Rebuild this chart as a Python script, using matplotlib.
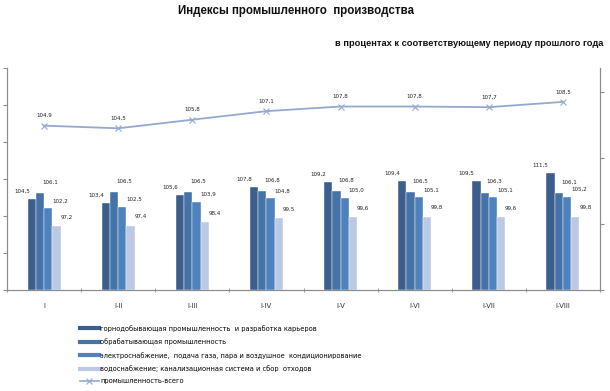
import matplotlib
matplotlib.use("Agg")
import matplotlib.pyplot as plt
from matplotlib.lines import Line2D
import numpy as np

categories = ["I", "I-II", "I-III", "I-IV", "I-V", "I-VI", "I-VII", "I-VIII"]
mining = [104.5, 103.4, 105.6, 107.8, 109.2, 109.4, 109.5, 111.5]
manufacturing = [106.1, 106.5, 106.5, 106.8, 106.8, 106.5, 106.3, 106.1]
electricity = [102.2, 102.5, 103.9, 104.8, 105.0, 105.1, 105.1, 105.2]
water = [97.2, 97.4, 98.4, 99.5, 99.6, 99.8, 99.6, 99.8]
total = [104.9, 104.5, 105.8, 107.1, 107.8, 107.8, 107.7, 108.5]

series_names = [
    "горнодобывающая промышленность  и разработка карьеров",
    "обрабатывающая промышленность",
    "электроснабжение,  подача газа, пара и воздушное  кондиционирование",
    "водоснабжение; канализационная система и сбор  отходов",
]
line_name = "промышленность-всего"
title = "Индексы промышленного  производства"
subtitle = "в процентах к соответствующему периоду прошлого года"

bar_colors = ["#3B5E8C", "#4572A7", "#4F81BD", "#BCC9E2"]
line_color = "#94A9D0"
axis_color = "#8C8C8C"

def fmt(v):
    return f"{v:.1f}".replace(".", ",")

fig = plt.figure(figsize=(6.10, 3.91), dpi=100)
ax = fig.add_axes([7/610, 1 - 290/391, 593/610, 222/391])
ax2 = ax.twinx()

x = np.arange(len(categories))
w = 0.111
series = [mining, manufacturing, electricity, water]
offsets = [(-10, 8), (10, 11), (12, 7), (10, 9)]
for i, (vals, col) in enumerate(zip(series, bar_colors)):
    pos = x + (i - 1.5) * w
    ax.bar(pos, [v - 80 for v in vals], bottom=80, width=w, color=col,
           edgecolor="white", linewidth=0.3, zorder=2)
    for px, v in zip(pos, vals):
        ax.annotate(fmt(v), (px, v), xytext=offsets[i], textcoords="offset pixels",
                    ha="center", va="center", fontsize=4, color="#222222")

ax.set_ylim(80, 140)
ax.set_yticks(np.arange(80, 141, 10))
ax.set_yticklabels([])
ax.set_xlim(-0.5, len(categories) - 0.5)
ax.set_xticks(x)
ax.set_xticklabels(categories, fontsize=5, color="#333333")
ax.set_xticks(np.arange(-0.5, len(categories)), minor=True)
ax.tick_params(axis="x", which="major", length=0, pad=9)
ax.tick_params(axis="x", which="minor", length=3, color=axis_color, direction="inout")
ax.tick_params(axis="y", which="major", length=3, color=axis_color, direction="out")

ax2.plot(x, total, color=line_color, linewidth=1.3, marker="x", markersize=4,
         markeredgewidth=0.8, zorder=3)
for px, v in zip(x, total):
    ax2.annotate(fmt(v), (px, v), xytext=(0, 10), textcoords="offset pixels",
                 ha="center", va="center", fontsize=4, color="#222222")
ax2.set_ylim(80, 80 + 222 / 6.6)
ax2.set_yticks([80, 90, 100, 110])
ax2.set_yticklabels([])
ax2.tick_params(axis="y", length=3, color=axis_color, direction="out")

for a in (ax, ax2):
    a.spines["top"].set_visible(False)
    for s in ("left", "right", "bottom"):
        a.spines[s].set_color(axis_color)
        a.spines[s].set_linewidth(0.8)

fig.text(296/610, 1 - 11/391, title, ha="center", va="center", fontsize=8.3,
         fontweight="bold", family="Liberation Sans", color="#111111")
fig.text(603/610, 1 - 44/391, subtitle, ha="right", va="center", fontsize=6.7,
         fontweight="bold", family="Liberation Sans", color="#111111")

handles = [Line2D([0], [0], color=c, linewidth=3) for c in bar_colors]
handles.append(Line2D([0], [0], color=line_color, linewidth=1.2, marker="x",
                      markersize=4, markeredgewidth=0.8))
fig.legend(handles, series_names + [line_name], loc="upper left",
           bbox_to_anchor=(80/610, 1 - 325/391), frameon=False, fontsize=4.8,
           handlelength=2.8, handletextpad=0.2, labelspacing=0.98, borderpad=0,
           borderaxespad=0)

fig.savefig("out.png", dpi=100)
